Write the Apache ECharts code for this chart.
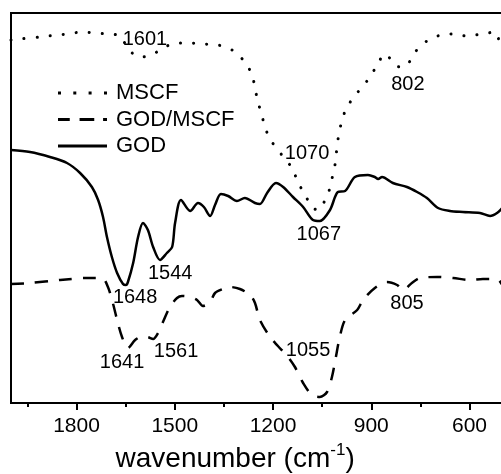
<!DOCTYPE html>
<html><head><meta charset="utf-8">
<script src="https://cdn.jsdelivr.net/npm/echarts@6/dist/echarts.min.js"></script>
<style>html,body{margin:0;padding:0;background:#fff}#c{width:501px;height:474px}</style>
</head><body><div id="c"></div>
<script>
// Wavenumber (cm^-1) and transmittance (a.u.)
const wnMSCF = [2000,1973,1911,1860,1826,1783,1744,1707,1667,1643,1621,1600,1566,1530,1493,1453,1414,1368,1325,1286,1264,1255,1246,1234,1224,1203,1173,1142,1124,1102,1078,1060,1041,1026,1017,1008,1005,998,989,974,943,913,885,858,824,806,788,766,730,687,647,608,562,522,507,500];
const tMSCF  = [363,364,366,368,369,371,370,369,367,354,348,346,349,356,360,360,359,358,353,341,328,315,301,288,275,261,248,235,221,208,195,193,203,215,229,243,256,270,283,296,310,322,336,349,337,336,339,351,362,368,369,367,369,371,359,353];

const wnGOD = [2000,1942,1881,1829,1789,1753,1734,1719,1707,1692,1676,1658,1649,1643,1627,1612,1597,1582,1566,1545,1524,1508,1499,1481,1453,1429,1411,1392,1377,1359,1337,1310,1286,1255,1240,1218,1191,1169,1139,1108,1078,1057,1026,1002,980,950,910,889,879,867,834,791,760,730,696,660,620,568,537,516,500];
const tGOD  = [253,251,246,240,230,216,203,186,166,146,130,119,118,121,140,166,180,173,156,143,150,156,180,203,192,200,196,187,198,209,207,202,205,200,199,210,220,216,206,196,183,182,193,211,212,226,228,226,224,226,220,216,211,205,195,192,191,190,187,190,195];

const wnGM = [2000,1942,1850,1768,1722,1704,1689,1676,1661,1643,1621,1603,1585,1566,1551,1536,1515,1493,1478,1453,1432,1414,1392,1377,1353,1331,1301,1270,1255,1240,1209,1185,1154,1133,1108,1081,1057,1035,1020,1008,998,980,943,925,889,852,821,803,776,751,699,650,598,559,516,500];
const tGM  = [119,120,123,125,125,116,100,83,66,55,63,66,66,64,70,81,96,105,107,106,103,97,101,110,114,116,114,108,100,83,66,57,46,36,20,8,6,11,26,46,63,83,93,103,115,121,118,113,120,125,126,125,123,124,124,118];

const peakText = ['1601','802','1070','1067','1544','1648','1641','1561','1055','805'];
const peakWn   = [1591,788,1096,1060,1514,1621,1661,1496,1093,791];
const peakT    = [363.5,319,250,169,130,106,41,52,53,100];

const majorTicks = [1800,1500,1200,900,600];
const minorTicks = [1950,1650,1350,1050,750];

const zip = (a,b) => a.map((v,i)=>[v,b[i]]);
const FONT = '"Liberation Sans", Arial, sans-serif';

const iconDotted = 'path://M0,0h3v3h-3zM15.3,0h3v3h-3zM30.6,0h3v3h-3zM46,0h3v3h-3z';
const iconDashed = 'path://M0,0h12v3h-12zM22,0h15v3h-15zM46,0h4v3h-4z';
const iconSolid  = 'path://M0,0h49v3h-49z';

const chart = echarts.init(document.getElementById('c'), null, {renderer:'canvas'});
const xBase = {type:'value', min:500, max:2000, inverse:true, gridIndex:0};
chart.setOption({
  animation:false,
  backgroundColor:'#fff',
  grid:{left:11, top:13, width:491.25, height:390, show:true, borderColor:'#000', borderWidth:2, containLabel:false, outerBoundsMode:'none'},
  xAxis:[
    Object.assign({}, xBase, {
      position:'bottom',
      axisLine:{show:true, lineStyle:{color:'#000', width:2}},
      axisTick:{show:true, inside:false, length:7, lineStyle:{color:'#000', width:2}, customValues:majorTicks},
      axisLabel:{show:true, color:'#000', fontSize:21, fontFamily:FONT, margin:13, customValues:majorTicks, formatter:v=>String(v)},
      splitLine:{show:false},
      name:'{a|wavenumber (cm}{s|-1}{a|)}',
      nameLocation:'middle', nameGap:37,
      nameTextStyle:{padding:[0,43,0,0], rich:{a:{fontSize:28, fontFamily:FONT, color:'#000'}, s:{fontSize:17, fontFamily:FONT, color:'#000', padding:[0,0,18,0]}}}
    }),
    Object.assign({}, xBase, {
      position:'bottom',
      axisLine:{show:false},
      axisTick:{show:true, inside:false, length:4, lineStyle:{color:'#000', width:2}, customValues:minorTicks},
      axisLabel:{show:false},
      splitLine:{show:false}
    })
  ],
  yAxis:{type:'value', min:0, max:390, axisLine:{show:true, lineStyle:{color:'#000', width:2}}, axisTick:{show:false}, axisLabel:{show:false}, splitLine:{show:false}},
  legend:{
    data:[{name:'MSCF', icon:iconDotted},{name:'GOD/MSCF', icon:iconDashed},{name:'GOD', icon:iconSolid}],
    orient:'vertical', left:58, top:82, padding:0,
    itemWidth:49, itemHeight:3, itemGap:4.5,
    itemStyle:{color:'#000', borderWidth:0},
    textStyle:{fontSize:22, fontFamily:FONT, color:'#000', lineHeight:20, padding:[0,0,0,4]}
  },
  series:[
    {name:'MSCF', type:'line', data:zip(wnMSCF,tMSCF), symbol:'none', smooth:0.3,
     lineStyle:{color:'#000', width:3, type:[0.1,13], cap:'round'}, itemStyle:{color:'#000'}},
    {name:'GOD/MSCF', type:'line', data:zip(wnGM,tGM), symbol:'none', smooth:0.3,
     lineStyle:{color:'#000', width:2.5, type:[13,11]}, itemStyle:{color:'#000'}},
    {name:'GOD', type:'line', data:zip(wnGOD,tGOD), symbol:'none', smooth:0.3,
     lineStyle:{color:'#000', width:2.5, type:'solid'}, itemStyle:{color:'#000'}},
    {name:'labels', type:'scatter', symbolSize:0, silent:true, itemStyle:{color:'#000', opacity:1},
     data:peakWn.map((w,i)=>({value:[w,peakT[i]], name:peakText[i]})),
     label:{show:true, position:'inside', formatter:p=>p.name, color:'#000', opacity:1, textBorderWidth:0, fontSize:20, fontFamily:FONT, align:'center', verticalAlign:'middle'}}
  ]
});
</script></body></html>
